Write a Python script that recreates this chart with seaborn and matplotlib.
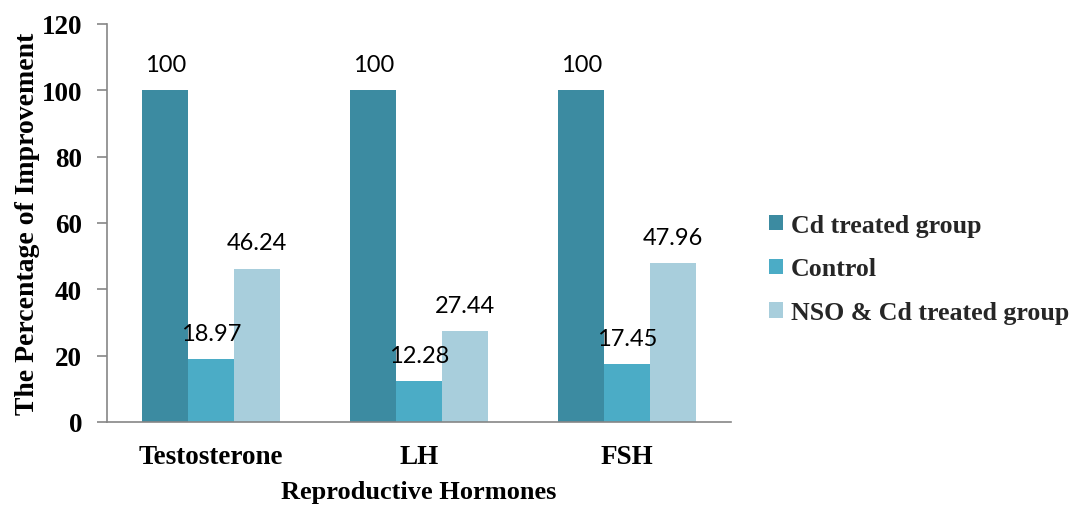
import matplotlib
matplotlib.use("Agg")
import matplotlib.pyplot as plt
import seaborn as sns
import pandas as pd
import numpy as np

hormones = ["Testosterone", "LH", "FSH"]
groups = ["Cd treated group", "Control", "NSO & Cd treated group"]
cd_treated = [100, 100, 100]
control = [18.97, 12.28, 17.45]
nso_cd = [46.24, 27.44, 47.96]
colors = ["#3C8BA1", "#4BACC6", "#A8CEDC"]

rows = []
for g, vals in zip(groups, [cd_treated, control, nso_cd]):
    for h, v in zip(hormones, vals):
        rows.append({"Hormone": h, "Group": g, "Value": v})
df = pd.DataFrame(rows)

sns.set_theme(style="white")
serif = ["Liberation Serif", "DejaVu Serif"]

fig = plt.figure(figsize=(10.79, 5.06), dpi=100)
ax = fig.add_axes([107/1079, (506-423)/506, (731-107)/1079, (423-25)/506])

sns.barplot(data=df, x="Hormone", y="Value", hue="Group", order=hormones,
            hue_order=groups, palette=colors, width=0.66, gap=0,
            saturation=1, ax=ax, edgecolor="none", linewidth=0)

for cont in ax.containers:
    for bar in cont:
        h = bar.get_height()
        ax.annotate(f"{h:g}", (bar.get_x() + bar.get_width()/2, h),
                    xytext=(0, 18.5), textcoords="offset points",
                    ha="center", va="center", fontsize=17,
                    family=["Lato", "DejaVu Sans"], color="black")

ax.set_ylim(0, 120)
ax.set_yticks(np.arange(0, 121, 20))
ax.set_xlim(-0.5, 2.5)
ax.set_xticks(range(3))
ax.set_xticklabels(hormones)
ax.set_xticks([-0.5, 0.5, 1.5, 2.5], minor=True)
ax.tick_params(axis="x", which="major", length=0, pad=16)
ax.tick_params(axis="x", which="minor", length=8, width=1.2, color="#868686", direction="out")
ax.tick_params(axis="y", which="major", length=7, width=1.2, color="#868686", direction="out", left=True, pad=11)

for lab in ax.get_xticklabels() + ax.get_yticklabels():
    lab.set_family(serif)
    lab.set_fontweight("bold")
    lab.set_fontsize(19.5)
    lab.set_color("black")

for s in ["top", "right"]:
    ax.spines[s].set_visible(False)
for s in ["left", "bottom"]:
    ax.spines[s].set_color("#868686")
    ax.spines[s].set_linewidth(1.2)

ax.set_xlabel("Reproductive Hormones", family=serif, fontweight="bold", fontsize=19, color="black", labelpad=8)
ax.set_ylabel("The Percentage of Improvement", family=serif, fontweight="bold", fontsize=20, color="black", labelpad=1)

leg = ax.legend(loc="center left", frameon=False,
                prop={"family": serif, "weight": "bold", "size": 18.6},
                handlelength=0.55, handleheight=0.55, handletextpad=0.3, labelspacing=0.8)
leg.set_bbox_to_anchor((746/1079, (506-270)/506), transform=fig.transFigure)

fig.savefig("out.png", dpi=100)
